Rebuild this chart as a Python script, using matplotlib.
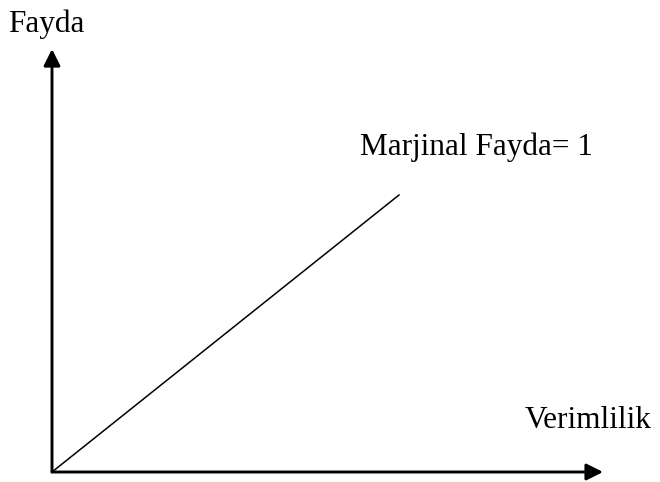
import matplotlib
matplotlib.use("Agg")
import matplotlib.pyplot as plt

# marginal utility line (slope 1)
line_x = [0, 1]
line_y = [0, 1]
axis_x_end = 1.588
axis_y_end = 1.527

y_label = "Fayda"
x_label = "Verimlilik"
line_label = "Marjinal Fayda= 1"

plt.rcParams['font.family'] = ['Liberation Serif', 'DejaVu Serif']

fig = plt.figure(figsize=(6.6, 4.82), dpi=100)
ax = fig.add_axes([0, 0, 1, 1])
ax.set_xlim(-52 / 347, 608 / 347)
ax.set_ylim(-10 / 277, 472 / 277)
ax.axis('off')

arrow = dict(arrowstyle="-|>,head_length=1.0,head_width=0.5", color="black",
             lw=2.1, shrinkA=0, shrinkB=0, mutation_scale=10)
ax.annotate("", xy=(axis_x_end, 0), xytext=(0, 0), arrowprops=arrow)
ax.annotate("", xy=(0, axis_y_end), xytext=(0, 0), arrowprops=arrow)

ax.plot(line_x, line_y, color="black", lw=1.1)

fs = 22.5
ax.text(-0.127, 1.588, y_label, fontsize=fs, va='baseline', ha='left')
ax.text(0.888, 1.144, line_label, fontsize=fs, va='baseline', ha='left')
ax.text(1.363, 0.159, x_label, fontsize=fs, va='baseline', ha='left')

fig.savefig("out.png", dpi=100)
